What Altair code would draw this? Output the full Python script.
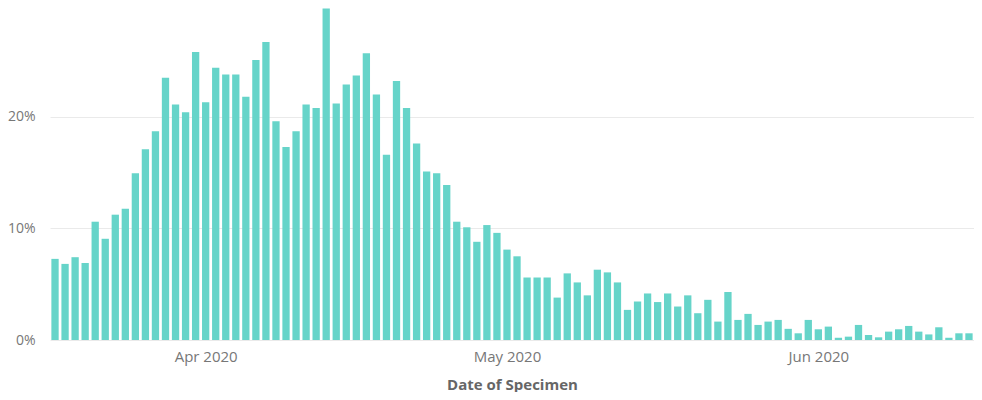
import altair as alt
import pandas as pd

# Daily share of positive specimens (percent), 17 Mar – 16 Jun 2020
first_day = "2020-03-17"
march_vals = [7.27, 6.82, 7.42, 6.9, 10.6, 9.07, 11.23, 11.77, 14.95, 17.1, 18.7, 23.5, 21.1, 20.4, 25.8]
april_vals = [21.3, 24.4, 23.8, 23.8, 21.8, 25.1, 26.7, 19.6, 17.3, 18.7, 21.1, 20.8, 29.7, 21.2, 22.9,
              23.7, 25.7, 22.0, 16.6, 23.2, 20.8, 17.6, 15.1, 14.95, 13.9, 10.6, 10.1, 8.8, 10.3, 9.6]
may_vals = [8.1, 7.5, 5.6, 5.6, 5.6, 3.8, 5.97, 5.16, 4.0, 6.3, 6.06, 5.16, 2.7, 3.45, 4.17, 3.4,
            4.17, 3.0, 4.0, 2.4, 3.6, 1.65, 4.3, 1.8, 2.34, 1.35, 1.65, 1.8, 1.0, 0.6, 1.8]
june_vals = [0.96, 1.2, 0.2, 0.3, 1.35, 0.45, 0.24, 0.75, 0.96, 1.26, 0.75, 0.5, 1.14, 0.2, 0.6, 0.6]

values = march_vals + april_vals + may_vals + june_vals
dates = pd.date_range(first_day, periods=len(values), freq="D").strftime("%Y-%m-%d")
df = pd.DataFrame({"date": list(dates), "share": [v / 100 for v in values]})

tick_dates = [alt.DateTime(year=2020, month=m, date=1, utc=True) for m in (4, 5, 6)]

FONT = "Open Sans"

chart = (
    alt.Chart(df)
    .mark_bar(size=7.3, color="#66D4C9")
    .encode(
        x=alt.X(
            "date:T",
            title="Date of Specimen",
            scale=alt.Scale(
                type="utc",
                padding=0,
                domain=[
                    alt.DateTime(year=2020, month=3, date=16, hours=12, utc=True),
                    alt.DateTime(year=2020, month=6, date=16, hours=12, utc=True),
                ],
            ),
            axis=alt.Axis(
                values=tick_dates,
                labelExpr="utcFormat(datum.value, '%b %Y')",
                grid=False,
                domain=False,
                ticks=False,
                labelPadding=9,
                labelFontSize=15,
                labelColor="#777777",
                labelFont=FONT,
                titleFont=FONT,
                titleFontSize=15,
                titleFontWeight="bold",
                titleColor="#666666",
                titlePadding=13,
            ),
        ),
        y=alt.Y(
            "share:Q",
            title=None,
            scale=alt.Scale(domain=[0, 0.2975], clamp=True, nice=False),
            axis=alt.Axis(
                values=[0, 0.1, 0.2],
                format=".0%",
                grid=True,
                gridColor="#EAEAEA",
                domain=False,
                ticks=False,
                labelPadding=15,
                labelFontSize=14,
                labelColor="#777777",
                labelFont=FONT,
            ),
        ),
    )
    .properties(
        width=924,
        height=332,
        autosize=alt.AutoSizeParams(type="none"),
        padding={"left": 42, "top": 0, "right": 0, "bottom": 52},
    )
    .configure_view(stroke=None)
)

chart.save("out.html", embed_options={"renderer": "svg", "actions": False})
